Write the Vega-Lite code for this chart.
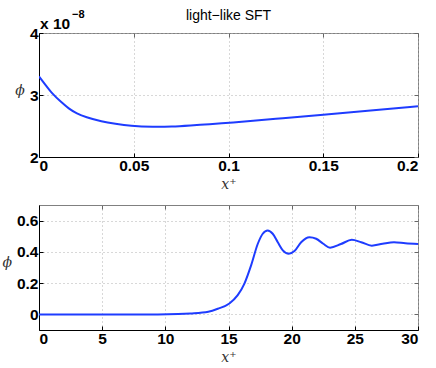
{
  "$schema": "https://vega.github.io/schema/vega-lite/v6.json",
  "padding": {"left": 1, "top": 8, "right": 0, "bottom": 0},
  "spacing": 12,
  "config": {
    "view": {"stroke": "#808080", "strokeWidth": 1},
    "axis": {
      "labelFont": "Liberation Sans", "labelFontWeight": "bold", "labelFontSize": 15.5, "labelColor": "#000",
      "domainColor": "#000", "domainWidth": 1, "tickColor": "#000", "tickSize": -4, "labelPadding": 5,
      "gridColor": "#b0b0b0", "gridDash": [1, 3], "gridOpacity": 1, "gridWidth": 1,
      "titleFont": "DejaVu Serif", "titleFontStyle": "italic", "titleFontWeight": "normal", "titleFontSize": 14, "titleColor": "#333"
    },
    "axisY": {"titleAngle": 0, "titleAlign": "right", "titleBaseline": "middle", "titlePadding": 5, "titleY": 57},
    "axisX": {"titlePadding": 4}
  },
  "vconcat": [
    {
      "width": 379,
      "height": 124,
      "resolve": {"axis": {"x": "independent", "y": "independent"}},
      "layer": [
        {
          "data": {"name": "top"},
          "mark": {"type": "line", "color": "#1e3cff", "strokeWidth": 2, "interpolate": "basis", "clip": true},
          "encoding": {
            "x": {"field": "x", "type": "quantitative", "scale": {"domain": [0, 0.2], "nice": false},
              "axis": {"title": "x⁺", "values": [0, 0.05, 0.1, 0.15, 0.2], "format": "~g", "grid": true}},
            "y": {"field": "phi", "type": "quantitative", "scale": {"domain": [2e-8, 4e-8], "nice": false, "zero": false},
              "axis": {"title": "ϕ", "values": [2e-8, 3e-8, 4e-8], "labelExpr": "round(datum.value*1e8)", "grid": true}}
          }
        },
        {
          "data": {"name": "top"},
          "mark": {"type": "line", "opacity": 0, "clip": true},
          "encoding": {
            "x": {"field": "x", "type": "quantitative",
              "axis": {"orient": "top", "title": null, "labels": false, "grid": false, "domain": false, "tickColor": "#666", "values": [0, 0.05, 0.1, 0.15, 0.2]}},
            "y": {"field": "phi", "type": "quantitative",
              "axis": {"orient": "right", "title": null, "labels": false, "grid": false, "domain": false, "tickColor": "#666", "values": [2e-8, 3e-8, 4e-8]}}
          }
        },
        {
          "data": {"values": [{"x": 0, "phi": 4e-8, "label": "x 10"}]},
          "mark": {"type": "text", "align": "left", "baseline": "alphabetic", "dx": 1, "dy": -4, "font": "Liberation Sans", "fontWeight": "bold", "fontSize": 15.5, "color": "#000"},
          "encoding": {"x": {"field": "x", "type": "quantitative", "axis": null}, "y": {"field": "phi", "type": "quantitative", "axis": null}, "text": {"field": "label"}}
        },
        {
          "data": {"values": [{"x": 0, "phi": 4e-8, "label": "−8"}]},
          "mark": {"type": "text", "align": "left", "baseline": "alphabetic", "dx": 33, "dy": -15, "font": "Liberation Sans", "fontWeight": "bold", "fontSize": 11, "color": "#000"},
          "encoding": {"x": {"field": "x", "type": "quantitative", "axis": null}, "y": {"field": "phi", "type": "quantitative", "axis": null}, "text": {"field": "label"}}
        },
        {
          "data": {"values": [{"x": 0.1, "phi": 4e-8, "label": "light−like SFT"}]},
          "mark": {"type": "text", "align": "center", "baseline": "alphabetic", "dy": -13, "font": "Liberation Sans", "fontWeight": "normal", "fontSize": 14, "color": "#000"},
          "encoding": {"x": {"field": "x", "type": "quantitative", "axis": null}, "y": {"field": "phi", "type": "quantitative", "axis": null}, "text": {"field": "label"}}
        }
      ]
    },
    {
      "width": 379,
      "height": 125,
      "resolve": {"axis": {"x": "independent", "y": "independent"}},
      "layer": [
        {
          "data": {"name": "bottom"},
          "mark": {"type": "line", "color": "#1e3cff", "strokeWidth": 2, "interpolate": "monotone", "clip": true},
          "encoding": {
            "x": {"field": "x", "type": "quantitative", "scale": {"domain": [0, 30], "nice": false},
              "axis": {"title": "x⁺", "values": [0, 5, 10, 15, 20, 25, 30], "format": "~g", "grid": true}},
            "y": {"field": "phi", "type": "quantitative", "scale": {"domain": [-0.1, 0.7], "nice": false, "zero": false},
              "axis": {"title": "ϕ", "values": [0, 0.2, 0.4, 0.6], "format": "~g", "grid": true}}
          }
        },
        {
          "data": {"name": "bottom"},
          "mark": {"type": "line", "opacity": 0, "clip": true},
          "encoding": {
            "x": {"field": "x", "type": "quantitative",
              "axis": {"orient": "top", "title": null, "labels": false, "grid": false, "domain": false, "tickColor": "#666", "values": [0, 5, 10, 15, 20, 25, 30]}},
            "y": {"field": "phi", "type": "quantitative",
              "axis": {"orient": "right", "title": null, "labels": false, "grid": false, "domain": false, "tickColor": "#666", "values": [0, 0.2, 0.4, 0.6]}}
          }
        }
      ]
    }
  ],
  "datasets": {
    "top": [
      {"x": 0.0, "phi": 3.30e-8},
      {"x": 0.0035, "phi": 3.16e-8},
      {"x": 0.007, "phi": 3.02e-8},
      {"x": 0.0115, "phi": 2.89e-8},
      {"x": 0.0157, "phi": 2.78e-8},
      {"x": 0.02, "phi": 2.70e-8},
      {"x": 0.0245, "phi": 2.645e-8},
      {"x": 0.0332, "phi": 2.57e-8},
      {"x": 0.0402, "phi": 2.535e-8},
      {"x": 0.048, "phi": 2.50e-8},
      {"x": 0.0605, "phi": 2.484e-8},
      {"x": 0.07, "phi": 2.49e-8},
      {"x": 0.08, "phi": 2.51e-8},
      {"x": 0.09, "phi": 2.53e-8},
      {"x": 0.1, "phi": 2.55e-8},
      {"x": 0.125, "phi": 2.615e-8},
      {"x": 0.15, "phi": 2.68e-8},
      {"x": 0.175, "phi": 2.75e-8},
      {"x": 0.2, "phi": 2.82e-8}
    ],
    "bottom": [
      {"x": 0, "phi": 0},
      {"x": 5, "phi": 0},
      {"x": 9.4, "phi": 0},
      {"x": 11, "phi": 0.002},
      {"x": 12, "phi": 0.006},
      {"x": 13.4, "phi": 0.017},
      {"x": 14.15, "phi": 0.036},
      {"x": 15.07, "phi": 0.07},
      {"x": 15.73, "phi": 0.123},
      {"x": 16.26, "phi": 0.197},
      {"x": 16.79, "phi": 0.314},
      {"x": 17.32, "phi": 0.452},
      {"x": 17.71, "phi": 0.516},
      {"x": 18.1, "phi": 0.537},
      {"x": 18.5, "phi": 0.516},
      {"x": 18.9, "phi": 0.462},
      {"x": 19.3, "phi": 0.41},
      {"x": 19.77, "phi": 0.388},
      {"x": 20.22, "phi": 0.405},
      {"x": 20.75, "phi": 0.462},
      {"x": 21.41, "phi": 0.494},
      {"x": 21.94, "phi": 0.484},
      {"x": 22.5, "phi": 0.452},
      {"x": 23.04, "phi": 0.427},
      {"x": 23.9, "phi": 0.45},
      {"x": 24.76, "phi": 0.477},
      {"x": 25.5, "phi": 0.462},
      {"x": 26.34, "phi": 0.44},
      {"x": 27.2, "phi": 0.452},
      {"x": 28.1, "phi": 0.462},
      {"x": 29, "phi": 0.455},
      {"x": 30, "phi": 0.45}
    ]
  }
}
